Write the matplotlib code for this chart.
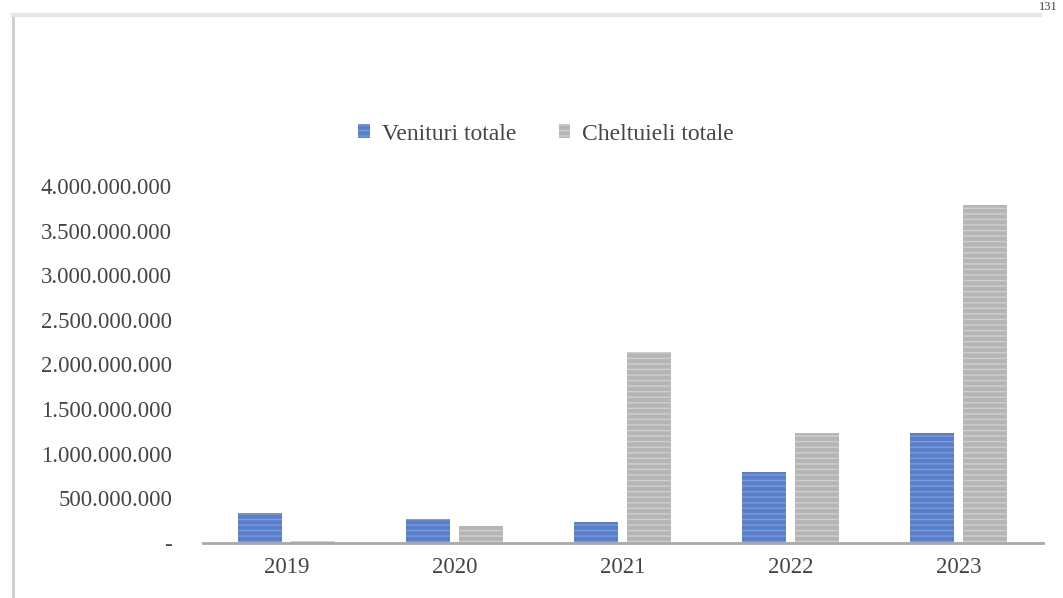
import numpy as np
import matplotlib.pyplot as plt
from matplotlib.ticker import FuncFormatter

years = ['2019', '2020', '2021', '2022', '2023']
venituri = [335e6, 270e6, 235e6, 800e6, 1235e6]
cheltuieli = [20e6, 190e6, 2140e6, 1235e6, 3790e6]

plt.rcParams['font.family'] = ['Liberation Serif', 'DejaVu Serif']
plt.rcParams['hatch.linewidth'] = 1.0

fig = plt.figure(figsize=(10.63, 5.98), dpi=100)
ax = fig.add_axes([202.5 / 1063, 55 / 598, 840 / 1063, 357 / 598])

x = np.arange(len(years))
w = 0.265
ax.bar(x - 0.157, venituri, w, color='#5a7fc8', edgecolor='#7b9be0',
       linewidth=0, hatch='---', label='Venituri totale')
ax.bar(x + 0.157, cheltuieli, w, color='#b5b5b5', edgecolor='#cfcfcf',
       linewidth=0, hatch='---', label='Cheltuieli totale')

ax.set_xlim(-0.5, 4.5)
ax.set_ylim(0, 4e9)
ax.set_yticks(np.arange(0, 4.01e9, 5e8))


def fmt(v, pos):
    if v == 0:
        return '-'
    return f'{int(v):,}'.replace(',', '.')


ax.yaxis.set_major_formatter(FuncFormatter(fmt))
ax.set_xticks(x)
ax.set_xticklabels(years)
ax.tick_params(axis='both', length=0, labelsize=16.5, colors='#454545')
ax.tick_params(axis='y', pad=22)
ax.tick_params(axis='x', pad=10)

for s in ['top', 'right', 'left']:
    ax.spines[s].set_visible(False)
ax.spines['bottom'].set_color('#a8a8a8')
ax.spines['bottom'].set_linewidth(2)

fig.legend(loc='center', bbox_to_anchor=(546 / 1063, 1 - 134 / 598),
           ncol=2, frameon=False, fontsize=17, handlelength=0.5,
           handleheight=0.5, columnspacing=1.8, handletextpad=0.5,
           labelcolor='#454545')

# border of the chart frame from the scanned page
fig.add_artist(plt.Line2D([13 / 1063, 13 / 1063], [0, 1 - 15 / 598],
                          color='#cccccc', lw=2))
fig.add_artist(plt.Line2D([13 / 1063, 1040 / 1063], [1 - 15 / 598, 1 - 15 / 598],
                          color='#e6e6e6', lw=3))
fig.text(1058 / 1063, 1 - 1 / 598, '131', ha='right', va='top', fontsize=9,
         color='#404040')

fig.savefig('out.png', dpi=100)
